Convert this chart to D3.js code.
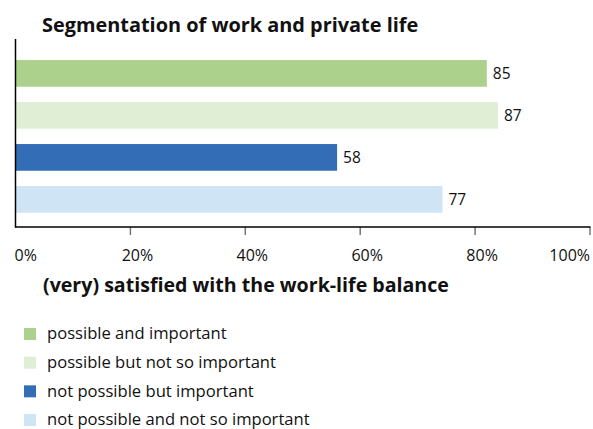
<!DOCTYPE html>
<html><head><meta charset="utf-8">
<script src="https://cdn.jsdelivr.net/npm/d3@7"></script>
<style>body{margin:0;background:#fff}svg{display:block}text{font-family:"Open Sans",sans-serif}</style>
</head><body><svg id="c" width="593" height="429"></svg>
<script>
const title = "Segmentation of work and private life";
const axisTitle = "(very) satisfied with the work-life balance";
const categories = ["possible and important","possible but not so important","not possible but important","not possible and not so important"];
const values = [85, 87, 58, 77];
const colors = ["#acd18c","#e0eed5","#336db6","#cfe4f4"];
const tickValues = [0, 20, 40, 60, 80, 100];
const tickLabels = ["0%","20%","40%","60%","80%","100%"];

const svg = d3.select("#c");
const xBar = d3.scaleLinear().domain([0,100]).range([15.5,570]);
const xAxis = d3.scaleLinear().domain([0,100]).range([15.5,590]);
const y = d3.scaleBand().domain(categories).range([52.4,220.4]).paddingInner(0.364).paddingOuter(0.182);

svg.append("text").attr("x",42).attr("y",32).attr("font-size",19.9).attr("font-weight",700).attr("fill","#111").text(title);

svg.selectAll("rect.bar").data(categories).join("rect").attr("class","bar")
  .attr("x",xBar(0)).attr("y",d=>y(d)).attr("height",y.bandwidth())
  .attr("width",(d,i)=>xBar(values[i])-xBar(0)).attr("fill",(d,i)=>colors[i]);

svg.selectAll("text.val").data(categories).join("text").attr("class","val")
  .attr("x",(d,i)=>xBar(values[i])+6).attr("y",d=>y(d)+y.bandwidth()/2).attr("dy","0.36em")
  .attr("font-size",15.5).attr("fill","#111").text((d,i)=>values[i]);

svg.selectAll("line.tick").data(tickValues.slice(1)).join("line").attr("class","tick")
  .attr("x1",d=>xAxis(d)).attr("x2",d=>xAxis(d)).attr("y1",227).attr("y2",235)
  .attr("stroke","#777").attr("stroke-width",1.5);
svg.selectAll("text.tl").data(tickValues).join("text").attr("class","tl")
  .attr("x",(d,i)=> i===0 ? xAxis(d)-1 : i===tickValues.length-1 ? xAxis(d) : xAxis(d)+7)
  .attr("text-anchor",(d,i)=> i===0 ? "start" : i===tickValues.length-1 ? "end" : "middle")
  .attr("y",260.5).attr("font-size",16).attr("fill","#111").text((d,i)=>tickLabels[i]);

svg.append("line").attr("x1",15.5).attr("x2",15.5).attr("y1",39).attr("y2",227.5).attr("stroke","#000").attr("stroke-width",1.5);
svg.append("line").attr("x1",15).attr("x2",xAxis(100)+0.5).attr("y1",227).attr("y2",227).attr("stroke","#000").attr("stroke-width",1.5);

svg.append("text").attr("x",43).attr("y",292).attr("font-size",19.6).attr("font-weight",700).attr("fill","#111").text(axisTitle);

const ly = d3.scalePoint().domain(categories).range([334,420]);
const lg = svg.selectAll("g.lg").data(categories).join("g").attr("class","lg")
  .attr("transform",d=>`translate(24,${ly(d)})`);
lg.append("rect").attr("x",0).attr("y",-6).attr("width",12).attr("height",12).attr("fill",(d,i)=>colors[i]);
lg.append("text").attr("x",23).attr("y",0).attr("dy","0.32em").attr("font-size",16.6).attr("fill","#111").text(d=>d);
</script></body></html>
